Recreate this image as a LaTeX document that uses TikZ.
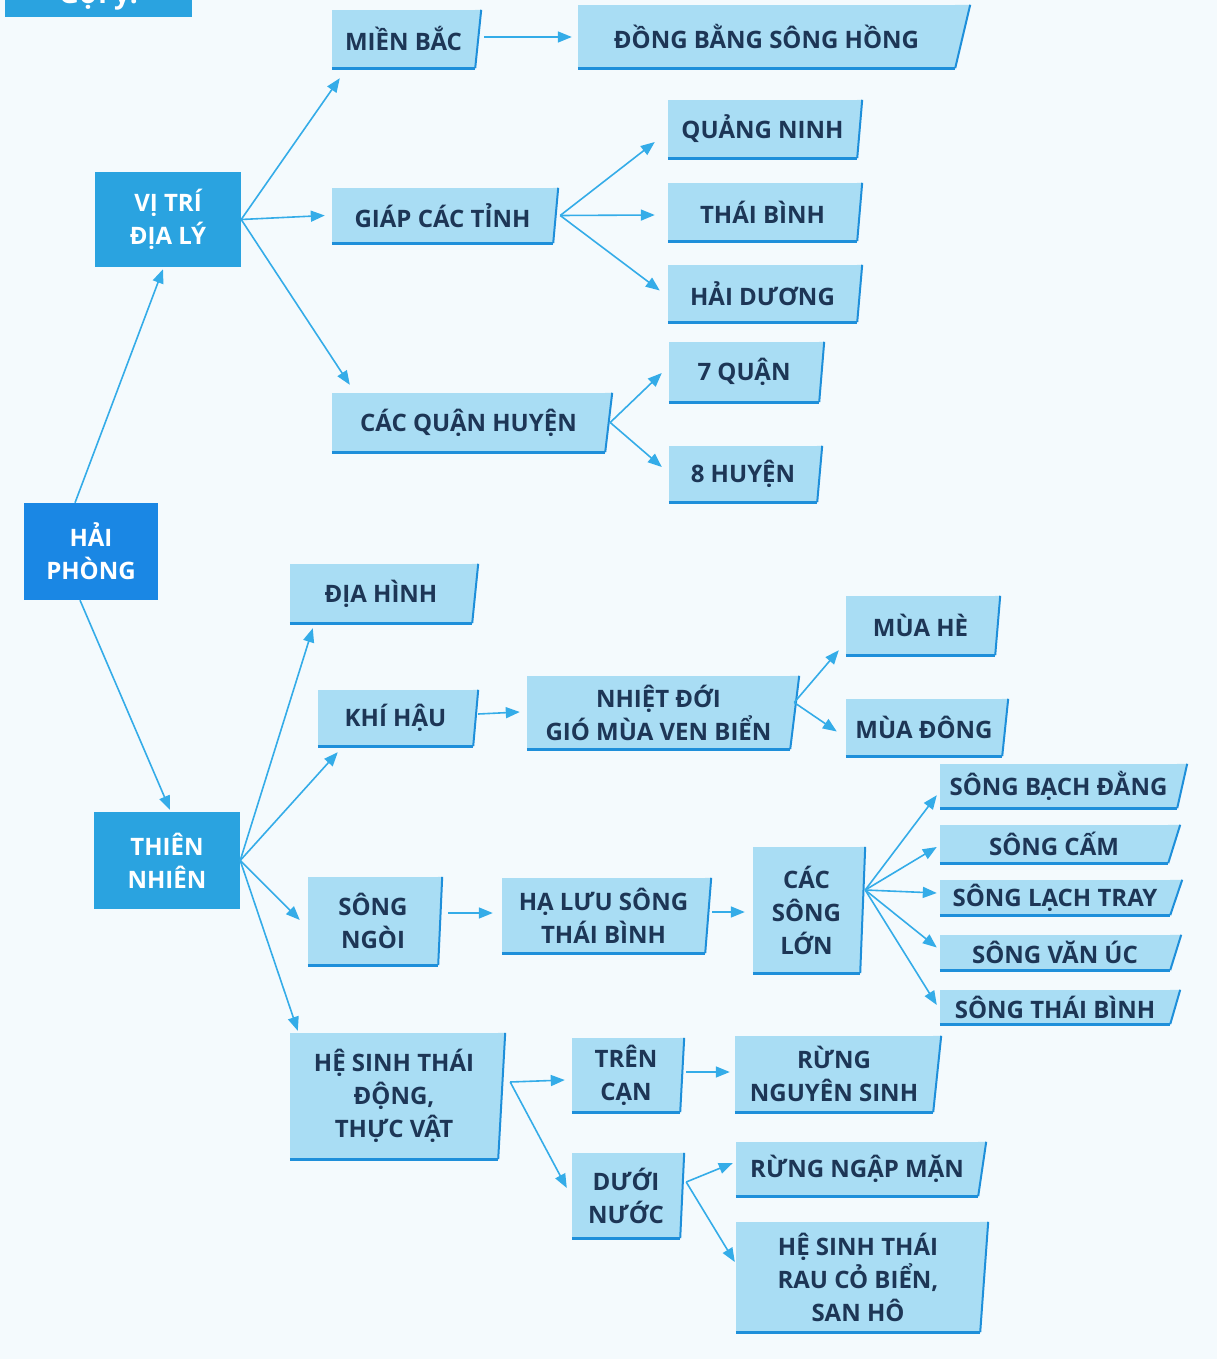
\documentclass[tikz,border=0pt]{standalone}
\usepackage{fontspec}
\setmainfont{Open Sans}
\usetikzlibrary{arrows.meta}
\definecolor{bgcol}{HTML}{F4FAFD}
\definecolor{leaffill}{HTML}{A9DDF4}
\definecolor{rimcol}{HTML}{1E8FDA}
\definecolor{inkcol}{HTML}{1D3656}
\definecolor{midblue}{HTML}{2AA3E0}
\definecolor{deepblue}{HTML}{1A87E4}
\definecolor{arrowcol}{HTML}{34ACE8}
\tikzset{
  leaf/.style={fill=leaffill, text=inkcol, font=\bfseries\fontsize{24}{33}\selectfont,
    align=center, inner sep=0pt},
  hub/.style={fill=midblue, text=white, font=\bfseries\fontsize{24}{33}\selectfont,
    align=center, inner sep=0pt},
  root/.style={hub, fill=deepblue},
  arr/.style={draw=arrowcol, line width=1.6pt, -{Triangle[length=14pt,width=11pt]}},
  rim/.style={draw=rimcol, line width=2pt},
}
\begin{document}
\begin{tikzpicture}[x=1pt,y=-1pt]
\useasboundingbox (0,0) rectangle (1217,1359);
\fill[bgcol] (0,0) rectangle (1217,1359);
% hint box cut at the top
\node[hub, font=\bfseries\fontsize{28}{30}\selectfont, minimum width=187pt, inner ysep=6.3pt, anchor=base] (goiy) at (98.5,4) {Gợi ý:};
% main boxes
\node[root, minimum width=134pt, minimum height=97pt] (haiphong) at (91,551.5) {HẢI\\PHÒNG};
\node[hub, minimum width=146pt, minimum height=95pt] (vitri) at (168,219.5) {VỊ TRÍ\\ĐỊA LÝ};
\node[hub, minimum width=146pt, minimum height=97pt] (thiennhien) at (167,860.5) {THIÊN\\NHIÊN};
% position branch
\node[leaf, minimum width=143pt, minimum height=58pt] (mienbac) at (403.5,39) {MIỀN BẮC};
\node[leaf, minimum width=377pt, minimum height=63pt] (dongbang) at (766.5,36.5) {ĐỒNG BẰNG SÔNG HỒNG};
\node[leaf, minimum width=221pt, minimum height=55pt] (giap) at (442.5,215.5) {GIÁP CÁC TỈNH};
\node[leaf, minimum width=189pt, minimum height=58pt] (quangninh) at (762.5,129) {QUẢNG NINH};
\node[leaf, minimum width=189pt, minimum height=58pt] (thaibinh) at (762.5,212) {THÁI BÌNH};
\node[leaf, minimum width=189pt, minimum height=57pt] (haiduong) at (762.5,293.5) {HẢI DƯƠNG};
\node[leaf, minimum width=273pt, minimum height=59pt] (cacquan) at (468.5,422.5) {CÁC QUẬN HUYỆN};
\node[leaf, minimum width=150pt, minimum height=60pt] (bayquan) at (744,372) {7 QUẬN};
\node[leaf, minimum width=148pt, minimum height=56pt] (tamhuyen) at (743,474) {8 HUYỆN};
% nature branch
\node[leaf, minimum width=182pt, minimum height=59pt] (diahinh) at (381,593.5) {ĐỊA HÌNH};
\node[leaf, minimum width=155pt, minimum height=56pt] (khihau) at (395.5,718) {KHÍ HẬU};
\node[leaf, minimum width=263pt, minimum height=73pt] (nhietdoi) at (658.5,712.5) {NHIỆT ĐỚI\\GIÓ MÙA VEN BIỂN};
\node[leaf, minimum width=149pt, minimum height=59pt] (muahe) at (920.5,625.5) {MÙA HÈ};
\node[leaf, minimum width=156pt, minimum height=57pt] (muadong) at (924,727.5) {MÙA ĐÔNG};
\node[leaf, minimum width=130pt, minimum height=88pt] (songngoi) at (373,921) {SÔNG\\NGÒI};
\node[leaf, minimum width=203pt, minimum height=75pt] (halu) at (603.5,915.5) {HẠ LƯU SÔNG\\THÁI BÌNH};
\node[leaf, minimum width=107pt, minimum height=126pt] (cacsong) at (806.5,910) {CÁC\\SÔNG\\LỚN};
\node[leaf, minimum width=237pt, minimum height=44pt] (bachdang) at (1058.5,786) {SÔNG BẠCH ĐẰNG};
\node[leaf, minimum width=228pt, minimum height=38pt] (cam) at (1054,844) {SÔNG CẤM};
\node[leaf, minimum width=230pt, minimum height=35pt] (lachtray) at (1055,897.5) {SÔNG LẠCH TRAY};
\node[leaf, minimum width=230pt, minimum height=35pt] (vanuc) at (1055,952.5) {SÔNG VĂN ÚC};
\node[leaf, minimum width=230pt, minimum height=34pt] (songthaibinh) at (1055,1007) {SÔNG THÁI BÌNH};
\node[leaf, minimum width=208pt, minimum height=126pt] (hesinh) at (394,1096) {HỆ SINH THÁI\\ĐỘNG,\\THỰC VẬT};
\node[leaf, minimum width=108pt, minimum height=74pt] (trencan) at (626,1075) {TRÊN\\CẠN};
\node[leaf, minimum width=198pt, minimum height=76pt] (nguyensinh) at (834,1074) {RỪNG\\NGUYÊN SINH};
\node[leaf, minimum width=108pt, minimum height=85pt] (duoinuoc) at (626,1195.5) {DƯỚI\\NƯỚC};
\node[leaf, minimum width=242pt, minimum height=54pt] (ngapman) at (857,1169) {RỪNG NGẬP MẶN};
\node[leaf, minimum width=244pt, minimum height=110pt] (rauco) at (858,1277) {HỆ SINH THÁI\\RAU CỎ BIỂN,\\SAN HÔ};
% slanted right edge and rim of the light boxes
\foreach \n/\s in {mienbac/6, dongbang/15, giap/5, quangninh/5, thaibinh/5, haiduong/5,
    cacquan/7, bayquan/5, tamhuyen/5, diahinh/6, khihau/5, nhietdoi/9, muahe/5, muadong/6,
    songngoi/4, halu/6, cacsong/5, bachdang/10, cam/12, lachtray/12, vanuc/11, songthaibinh/10,
    hesinh/7, trencan/4, nguyensinh/8, duoinuoc/4, ngapman/8, rauco/8} {
  \fill[leaffill] (\n.south east) -- (\n.north east) -- ([xshift=\s pt]\n.north east) -- cycle;
  \draw[rim, line width=3pt] (\n.south west) -- (\n.south east);
  \draw[rim] (\n.south east) -- ([xshift=\s pt]\n.north east);
}
% connectors
\draw[arr] ([shift={(-16,0)}]haiphong.north) -- ([shift={(-5,2)}]vitri.south);
\draw[arr] ([shift={(-11,0)}]haiphong.south) -- ([shift={(3,-2)}]thiennhien.north);
\draw[arr] (vitri.east) -- ([shift={(8,10)}]mienbac.south west);
\draw[arr] (vitri.east) -- ([shift={(-7,0)}]giap.west);
\draw[arr] (vitri.east) -- ([shift={(18,-8)}]cacquan.north west);
\draw[arr] ([shift={(9,-2)}]mienbac.east) -- ([shift={(-6,0.5)}]dongbang.west);
\draw[arr] ([shift={(7,0)}]giap.east) -- ([shift={(-13,13)}]quangninh.west);
\draw[arr] ([shift={(7,0)}]giap.east) -- ([shift={(-13,3)}]thaibinh.west);
\draw[arr] ([shift={(7,0)}]giap.east) -- ([shift={(-8,-3)}]haiduong.west);
\draw[arr] ([shift={(5,0)}]cacquan.east) -- ([shift={(-7,1)}]bayquan.west);
\draw[arr] ([shift={(5,0)}]cacquan.east) -- ([shift={(-7,-7)}]tamhuyen.west);
\draw[arr] (thiennhien.east) -- ([shift={(23,5)}]diahinh.south west);
\draw[arr] (thiennhien.east) -- ([shift={(20,6)}]khihau.south west);
\draw[arr] (thiennhien.east) -- ([shift={(-8,-1)}]songngoi.west);
\draw[arr] (thiennhien.east) -- ([shift={(8,-2)}]hesinh.north west);
\draw[arr] ([shift={(5,-4)}]khihau.east) -- ([shift={(-7,-0.5)}]nhietdoi.west);
\draw[arr] ([shift={(4,-10)}]nhietdoi.east) -- ([shift={(-7,-5)}]muahe.south west);
\draw[arr] ([shift={(4,-10)}]nhietdoi.east) -- ([shift={(-9,4)}]muadong.west);
\draw[arr] ([shift={(10,-8)}]songngoi.east) -- ([shift={(-9,-2.5)}]halu.west);
\draw[arr] ([shift={(7,-3.5)}]halu.east) -- ([shift={(-8,2)}]cacsong.west);
\draw[arr] ([shift={(5,-20)}]cacsong.east) -- ([shift={(-3,-13)}]bachdang.south west);
\draw[arr] ([shift={(5,-20)}]cacsong.east) -- ([shift={(-3,3)}]cam.west);
\draw[arr] ([shift={(5,-20)}]cacsong.east) -- ([shift={(-3,-4.5)}]lachtray.west);
\draw[arr] ([shift={(5,-20)}]cacsong.east) -- ([shift={(-3,-5)}]vanuc.west);
\draw[arr] ([shift={(5,-20)}]cacsong.east) -- ([shift={(-3,-2)}]songthaibinh.west);
\draw[arr] ([shift={(12,-14)}]hesinh.east) -- ([shift={(-7,5)}]trencan.west);
\draw[arr] ([shift={(12,-14)}]hesinh.east) -- ([shift={(-5,-7.5)}]duoinuoc.west);
\draw[arr] ([shift={(6,-3)}]trencan.east) -- ([shift={(-5,-2)}]nguyensinh.west);
\draw[arr] ([shift={(6,-13.5)}]duoinuoc.east) -- ([shift={(-3,-6)}]ngapman.west);
\draw[arr] ([shift={(6,-13.5)}]duoinuoc.east) -- ([shift={(-1,-15)}]rauco.west);
\end{tikzpicture}
\end{document}
